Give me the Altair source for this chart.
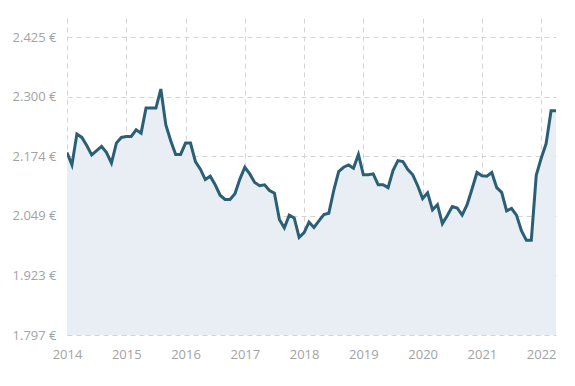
import altair as alt
import pandas as pd

# Monthly values (EUR), Jan 2014 .. Apr 2022
years = list(range(2014, 2023))
values_2014 = [2182, 2156, 2221, 2214, 2197, 2177, 2186, 2195, 2182, 2160, 2202, 2214]
values_2015 = [2216, 2216, 2230, 2223, 2276, 2276, 2276, 2316, 2241, 2207, 2178, 2178]
values_2016 = [2202, 2202, 2163, 2147, 2125, 2132, 2114, 2092, 2083, 2083, 2095, 2126]
values_2017 = [2151, 2137, 2119, 2112, 2114, 2102, 2096, 2041, 2023, 2050, 2044, 2003]
values_2018 = [2013, 2035, 2024, 2038, 2051, 2054, 2102, 2142, 2151, 2156, 2149, 2178]
values_2019 = [2135, 2135, 2137, 2114, 2114, 2108, 2144, 2165, 2163, 2146, 2135, 2112]
values_2020 = [2085, 2097, 2061, 2072, 2032, 2049, 2068, 2065, 2050, 2072, 2105, 2140]
values_2021 = [2133, 2132, 2140, 2108, 2098, 2059, 2064, 2050, 2017, 1997, 1997, 2134]
values_2022 = [2170, 2201, 2270, 2270]

y_ticks = [1797, 1923, 2049, 2174, 2300, 2425]
x_ticks = years

series = [values_2014, values_2015, values_2016, values_2017, values_2018,
          values_2019, values_2020, values_2021, values_2022]
rows = []
for yr, vals in zip(years, series):
    for m, v in enumerate(vals):
        rows.append({"t": yr + m / 12.0, "v": v})
df = pd.DataFrame(rows)

font = "Open Sans"
label_color = "#a3a3a3"
grid_color = "#d4d4d4"

x_enc = alt.X(
    "t:Q",
    scale=alt.Scale(domain=[2014, 2022.25], nice=False, zero=False),
    axis=alt.Axis(
        values=x_ticks, format="d", title=None, domain=False, ticks=False,
        labelFont=font, labelFontSize=13, labelColor=label_color,
        labelPadding=13, grid=True, gridColor=grid_color, gridDash=[5, 4],
        gridWidth=1, labelFlush=False,
    ),
)
y_scale = alt.Scale(domain=[1797, 2466], nice=False, zero=False)
y_enc = alt.Y(
    "v:Q",
    scale=y_scale,
    axis=alt.Axis(
        values=y_ticks, title=None, domain=False, ticks=False,
        labelExpr="replace(format(datum.value, ',.0f'), ',', '.') + ' €'",
        labelFont=font, labelFontSize=13, labelColor=label_color,
        labelPadding=11, grid=True, gridColor=grid_color, gridDash=[5, 4],
        gridWidth=1,
    ),
)

base = alt.Chart(df)
area = base.mark_area(color="#e8eef3", opacity=1, clip=True).encode(
    x=x_enc, y=y_enc, y2=alt.datum(1797)
)
line = base.mark_line(color="#2a5f75", strokeWidth=3, clip=True, strokeJoin="miter").encode(
    x="t:Q", y="v:Q"
)

chart = (
    alt.layer(area, line)
    .properties(
        width=489, height=317, autosize="none",
        padding={"left": 59, "top": 10, "right": 11, "bottom": 40},
        background="white",
    )
    .configure_view(stroke=None)
)

chart.save("out.html", embed_options={"renderer": "svg", "actions": False})
